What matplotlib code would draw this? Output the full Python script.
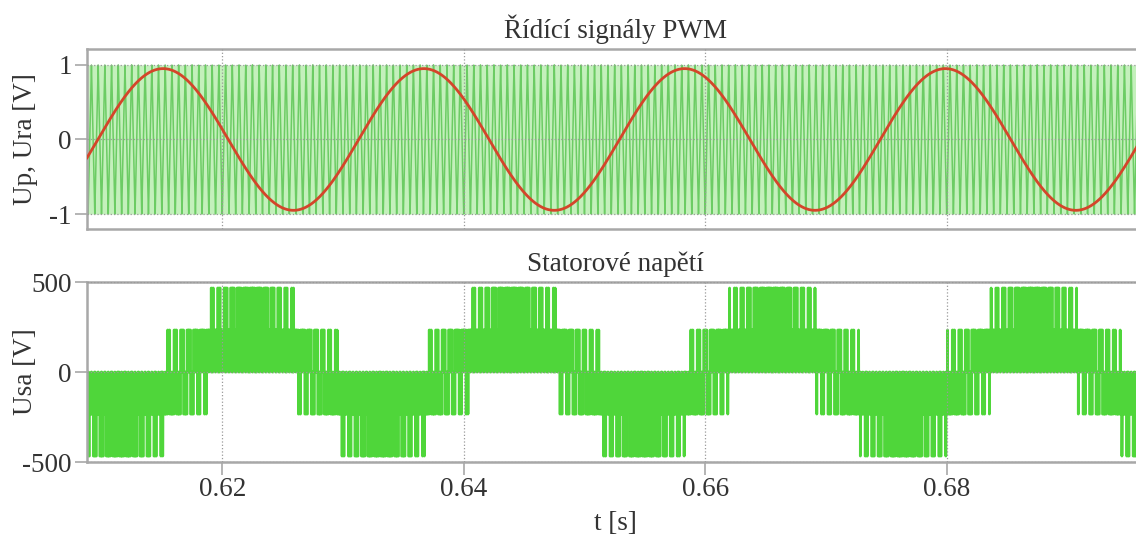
from __future__ import annotations

import matplotlib

matplotlib.use("Agg")

import matplotlib.pyplot as plt
import numpy as np


OUTPUT_PATH = "out.png"
FONT_FAMILY = ["Liberation Serif", "DejaVu Serif"]
FONT_SIZE = 19.5
TEXT_COLOR = "#333333"
FRAME_COLOR = "#a8a8a8"
GRID_COLOR = "#9a9a9a"
CARRIER_COLOR = "#6ccc64"
CARRIER_BG = "#c4f0bc"
REFERENCE_COLOR = "#d4452a"
VOLTAGE_COLOR = "#4fd63a"

# time window and ticks
T_START = 0.6088
T_END = 0.6963
X_TICKS = [0.62, 0.64, 0.66, 0.68]
TOP_Y_TICKS = [-1, 0, 1]
BOTTOM_Y_TICKS = [-500, 0, 500]

# signal parameters
REF_PERIOD_S = 0.0216
REF_AMPLITUDE = 0.95
REF_PEAK_T = 0.6151          # peak of the red reference in the top panel
PHASE_A_PEAK_T = 0.6224      # centre of the +2/3 Udc band in the bottom panel
CARRIER_FREQ_HZ = 1800
CARRIER_AMPLITUDE = 1.0
DC_LINK_V = 700
PHASE_SHIFTS_DEG = [0, -120, 120]

YLABEL_X = -0.046


def main() -> None:
    plt.rcParams["font.family"] = FONT_FAMILY
    plt.rcParams["axes.unicode_minus"] = False

    t = np.arange(T_START, T_END, 1e-6)
    carrier = _triangle(t)

    fig = plt.figure(figsize=(11.36, 5.35), dpi=100)
    ax_top = fig.add_axes((0.0766, 0.572, 0.93, 0.336))
    ax_bot = fig.add_axes((0.0766, 0.1364, 0.93, 0.3364))

    draw_pwm_signals(ax_top, t, carrier)
    draw_stator_voltage(ax_bot, t, carrier)

    fig.savefig(OUTPUT_PATH, dpi=100, facecolor="white")
    plt.close(fig)


def draw_pwm_signals(ax: plt.Axes, t: np.ndarray, carrier: np.ndarray) -> None:
    reference = REF_AMPLITUDE * np.cos(2 * np.pi * (t - REF_PEAK_T) / REF_PERIOD_S)

    ax.fill_between(t, -CARRIER_AMPLITUDE, CARRIER_AMPLITUDE, color=CARRIER_BG, lw=0, zorder=1)
    ax.plot(t, carrier, color=CARRIER_COLOR, lw=1.1, zorder=2)
    ax.plot(t, reference, color=REFERENCE_COLOR, lw=2.0, zorder=3)

    _style_axes(ax, TOP_Y_TICKS)
    ax.set_ylim(-1.2, 1.21)
    ax.tick_params(axis="x", labelbottom=False, length=0)
    ax.set_ylabel("Up, Ura [V]", fontsize=FONT_SIZE, color=TEXT_COLOR)
    ax.yaxis.set_label_coords(YLABEL_X, 0.5)
    ax.set_title("Řídící signály PWM", fontsize=FONT_SIZE, color=TEXT_COLOR, pad=8)


def draw_stator_voltage(ax: plt.Axes, t: np.ndarray, carrier: np.ndarray) -> None:
    switches = []
    for shift in PHASE_SHIFTS_DEG:
        phase = 2 * np.pi * (t - PHASE_A_PEAK_T) / REF_PERIOD_S + np.deg2rad(shift)
        switches.append((REF_AMPLITUDE * np.cos(phase) > carrier).astype(float))
    sa, sb, sc = switches
    usa = DC_LINK_V / 3 * (2 * sa - sb - sc)

    ax.plot(t, usa, color=VOLTAGE_COLOR, lw=2.0, drawstyle="steps-post", zorder=2)

    _style_axes(ax, BOTTOM_Y_TICKS)
    ax.set_ylim(-500, 500)
    ax.set_xticks(X_TICKS)
    ax.set_xticklabels([f"{tick:.2f}" for tick in X_TICKS])
    ax.set_ylabel("Usa [V]", fontsize=FONT_SIZE, color=TEXT_COLOR)
    ax.yaxis.set_label_coords(YLABEL_X, 0.5)
    ax.set_xlabel("t [s]", fontsize=FONT_SIZE, color=TEXT_COLOR, labelpad=6)
    ax.set_title("Statorové napětí", fontsize=FONT_SIZE, color=TEXT_COLOR, pad=8)


def _triangle(t: np.ndarray) -> np.ndarray:
    frac = (t * CARRIER_FREQ_HZ) % 1.0
    return CARRIER_AMPLITUDE * (1 - 4 * np.abs(frac - 0.5))


def _style_axes(ax: plt.Axes, y_ticks: list[int]) -> None:
    ax.set_xlim(T_START, T_END)
    ax.set_xticks(X_TICKS)
    ax.set_yticks(y_ticks)
    ax.set_yticklabels([str(tick) for tick in y_ticks])
    for side in ("top", "bottom", "left"):
        ax.spines[side].set_color(FRAME_COLOR)
        ax.spines[side].set_linewidth(1.8)
    ax.spines["right"].set_visible(False)
    ax.tick_params(
        axis="both",
        colors=FRAME_COLOR,
        labelcolor=TEXT_COLOR,
        labelsize=FONT_SIZE,
        length=9,
        width=1.2,
        pad=2,
    )
    ax.grid(True, color=GRID_COLOR, linestyle=":", linewidth=0.9)
    ax.set_axisbelow(False)


if __name__ == "__main__":
    main()
